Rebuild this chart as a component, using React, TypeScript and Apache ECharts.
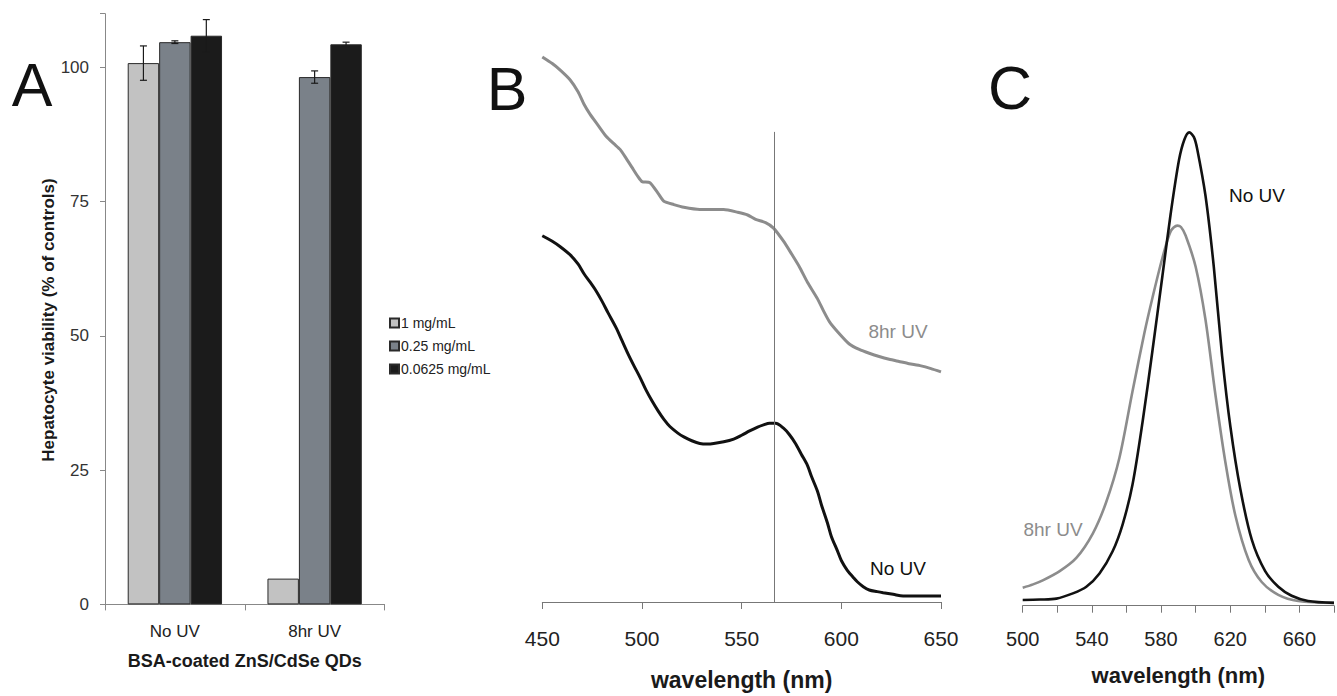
import React, { useEffect, useRef } from "react";
import * as echarts from "echarts";

// ---------- Panel A data ----------
const groupCategories = ["No UV", "8hr UV"];
const concNames = ["1 mg/mL", "0.25 mg/mL", "0.0625 mg/mL"];
const conc1Values = [100.8, 4.8];
const conc025Values = [104.7, 98.2];
const conc00625Values = [105.9, 104.3];
const conc1Errors = [3.2, 0];
const conc025Errors = [0.25, 1.15];
const conc00625Errors = [3.0, 0.4];
const viabilityTicks = [0, 25, 50, 75, 100];

// ---------- Panel B data (absorbance, a.u.) ----------
const absUV8hr: [number, number][] = [
  [450, 0.997], [455, 0.985], [459, 0.973], [464, 0.955], [468, 0.933], [471, 0.91],
  [474, 0.892], [478, 0.872], [482, 0.852], [486, 0.838], [489, 0.828], [492, 0.812],
  [495, 0.795], [498, 0.778], [500, 0.769], [504, 0.767], [508, 0.748], [511, 0.733],
  [516, 0.727], [521, 0.722], [529, 0.718], [541, 0.718], [548, 0.713], [553, 0.708],
  [557, 0.7], [562, 0.694], [566, 0.684], [571, 0.66], [575, 0.637], [579, 0.613],
  [583, 0.585], [588, 0.555], [591, 0.533], [594, 0.513], [598, 0.495], [604, 0.472],
  [609, 0.462], [614, 0.455], [619, 0.449], [624, 0.444], [629, 0.44], [634, 0.436],
  [640, 0.432], [645, 0.427], [650, 0.421],
];
const absNoUV: [number, number][] = [
  [450, 0.67], [455, 0.66], [459, 0.65], [464, 0.635], [468, 0.618], [471, 0.6],
  [474, 0.585], [477, 0.569], [480, 0.55], [483, 0.529], [487, 0.502], [490, 0.478],
  [493, 0.454], [496, 0.432], [499, 0.411], [502, 0.388], [505, 0.368], [508, 0.35],
  [511, 0.334], [514, 0.321], [518, 0.309], [521, 0.302], [525, 0.295],
  [529, 0.29], [533, 0.289], [536, 0.29], [541, 0.293], [546, 0.298], [550, 0.305],
  [554, 0.313], [558, 0.32], [561, 0.324], [564, 0.327], [567, 0.327], [571, 0.318],
  [574, 0.306], [577, 0.29], [580, 0.27], [583, 0.25], [585, 0.23], [588, 0.203],
  [590, 0.178], [593, 0.145], [595, 0.12], [598, 0.094], [600, 0.076], [603, 0.058],
  [606, 0.045], [608, 0.037], [611, 0.028], [614, 0.022], [618, 0.019], [621, 0.017],
  [626, 0.014], [631, 0.011], [640, 0.011], [650, 0.011],
];
const absMarkerNm = 566.2;
const absMarkerTop = 0.86;

// ---------- Panel C data (normalized PL intensity) ----------
const plNoUV: [number, number][] = [
  [500, 0.012], [510, 0.013], [519.5, 0.015], [529, 0.026], [536.8, 0.04], [544.4, 0.068],
  [552, 0.115], [557.8, 0.172], [563.5, 0.256], [569.3, 0.388], [575, 0.538], [580.8, 0.697],
  [585.6, 0.829], [590.4, 0.942], [593.5, 0.985], [596.3, 1.0], [599, 0.99], [600.9, 0.965],
  [605.7, 0.866], [610.5, 0.716], [615.3, 0.528], [620.1, 0.378], [625.8, 0.247], [632.5, 0.139],
  [640.2, 0.073], [647.8, 0.04], [655.5, 0.021], [665, 0.01], [680, 0.006],
];
const plUV8hr: [number, number][] = [
  [500, 0.038], [506, 0.045], [511.9, 0.054], [521.4, 0.073], [531, 0.101], [540.6, 0.153],
  [548.3, 0.219], [555.9, 0.312], [563.5, 0.453], [570.3, 0.575], [575, 0.65], [580.8, 0.735],
  [585.6, 0.791], [589.4, 0.803], [591.5, 0.8], [594.2, 0.782], [600, 0.716], [605.7, 0.604],
  [611.5, 0.444], [617.2, 0.303], [623, 0.19], [630.6, 0.097], [638.2, 0.05], [647.8, 0.023],
  [659.3, 0.01], [680, 0.006],
];

const FONT = "Liberation Sans, Arial, sans-serif";
const BAR_COLORS = ["#c2c2c2", "#7a8189", "#1b1b1b"];
const BAR_FRAC = 0.225;

export default function App() {
  const ref = useRef<HTMLDivElement>(null);

  useEffect(() => {
    if (!ref.current) return;
    const chart = echarts.init(ref.current, undefined, { renderer: "svg" });

    const barValues = [conc1Values, conc025Values, conc00625Values];
    const barErrors = [conc1Errors, conc025Errors, conc00625Errors];
    const errData: number[][] = [];
    barValues.forEach((vals, si) => {
      vals.forEach((v, ci) => {
        if (barErrors[si][ci] > 0) errData.push([ci, v, barErrors[si][ci], si]);
      });
    });

    const letter = (t: string, x: number, y: number) => ({
      type: "text",
      x,
      y,
      style: {
        text: t,
        fontSize: 61,
        fontFamily: FONT,
        fill: "#111",
        align: "center",
        verticalAlign: "middle",
      },
    });
    const curveLabel = (t: string, x: number, y: number, color: string) => ({
      type: "text",
      x,
      y,
      style: {
        text: t,
        fontSize: 19,
        fontFamily: FONT,
        fill: color,
        align: "center",
        verticalAlign: "middle",
      },
    });

    const option: any = {
      animation: false,
      backgroundColor: "#ffffff",
      textStyle: { fontFamily: FONT },
      grid: [
        { left: 105, top: 13.7, width: 279.5, height: 590.7 },
        { left: 542.3, top: 0.7, width: 398.7, height: 605 },
        { left: 1022.7, top: 85, width: 313.3, height: 520.7 },
      ],
      legend: {
        data: concNames,
        orient: "vertical",
        left: 389,
        top: 316,
        padding: 0,
        itemWidth: 9,
        itemHeight: 9,
        itemGap: 9,
        icon: "rect",
        textStyle: { fontSize: 14, color: "#222", fontFamily: FONT, lineHeight: 14, padding: [0, 0, 0, -3] },
      },
      xAxis: [
        {
          gridIndex: 0,
          type: "category",
          data: groupCategories,
          axisLine: { lineStyle: { color: "#888", width: 1 } },
          axisTick: { show: true, length: 6, lineStyle: { color: "#888" } },
          axisLabel: { fontSize: 17, color: "#222", margin: 19, fontFamily: FONT },
          name: "BSA-coated ZnS/CdSe QDs",
          nameLocation: "middle",
          nameGap: 48,
          nameTextStyle: { fontSize: 18, fontWeight: "bold", color: "#1a1a1a", fontFamily: FONT },
        },
        {
          gridIndex: 1,
          type: "value",
          min: 450,
          max: 650,
          interval: 50,
          axisLine: { lineStyle: { color: "#777", width: 1 } },
          axisTick: { show: true, length: 7, lineStyle: { color: "#777" } },
          axisLabel: { fontSize: 21, color: "#222", margin: 26, fontFamily: FONT },
          splitLine: { show: false },
          name: "wavelength (nm)",
          nameLocation: "middle",
          nameGap: 66,
          nameTextStyle: { fontSize: 23, fontWeight: "bold", color: "#1a1a1a", fontFamily: FONT },
        },
        {
          gridIndex: 2,
          type: "value",
          min: 500,
          max: 680,
          interval: 20,
          axisLine: { lineStyle: { color: "#777", width: 1 } },
          axisTick: { show: true, length: 7, lineStyle: { color: "#777" } },
          axisLabel: {
            fontSize: 20,
            color: "#222",
            margin: 23,
            fontFamily: FONT,
            formatter: (v: number) => ((v - 500) % 40 === 0 && v < 680 ? String(v) : ""),
          },
          splitLine: { show: false },
          name: "wavelength (nm)",
          nameLocation: "middle",
          nameGap: 59,
          nameTextStyle: { fontSize: 22, fontWeight: "bold", color: "#1a1a1a", fontFamily: FONT },
        },
      ],
      yAxis: [
        {
          gridIndex: 0,
          type: "value",
          min: 0,
          max: 110,
          interval: 25,
          axisLine: { show: true, lineStyle: { color: "#888", width: 1 } },
          axisTick: { show: true, length: 5, lineStyle: { color: "#888" } },
          axisLabel: {
            fontSize: 17,
            color: "#333",
            margin: 16,
            fontFamily: FONT,
            formatter: (v: number) => (viabilityTicks.includes(v) ? String(v) : ""),
          },
          splitLine: { show: false },
          name: "Hepatocyte viability (% of controls)",
          nameLocation: "middle",
          nameGap: 44,
          nameTextStyle: {
            fontSize: 17,
            fontWeight: "bold",
            color: "#1a1a1a",
            fontFamily: FONT,
            padding: [0, 22, 0, 0],
          },
        },
        { gridIndex: 1, type: "value", min: 0, max: 1.1, show: false },
        { gridIndex: 2, type: "value", min: 0, max: 1.1, show: false },
      ],
      series: [
        ...concNames.map((n, i) => ({
          name: n,
          type: "bar",
          xAxisIndex: 0,
          yAxisIndex: 0,
          data: barValues[i],
          barWidth: `${BAR_FRAC * 100}%`,
          barGap: "0%",
          itemStyle: { color: BAR_COLORS[i], borderColor: "#2a2a2a", borderWidth: 1 },
        })),
        {
          name: "error",
          type: "custom",
          xAxisIndex: 0,
          yAxisIndex: 0,
          z: 10,
          data: errData,
          encode: { x: 0, y: 1 },
          renderItem: (params: any, api: any) => {
            const ci = api.value(0);
            const v = api.value(1);
            const e = api.value(2);
            const si = api.value(3);
            const band = api.size([1, 0])[0];
            const off = (si - 1) * band * BAR_FRAC;
            const top = api.coord([ci, v + e]);
            const bot = api.coord([ci, v - e]);
            const x = top[0] + off;
            const st = { stroke: "#1a1a1a", lineWidth: 1.2 };
            return {
              type: "group",
              children: [
                { type: "line", shape: { x1: x, y1: top[1], x2: x, y2: bot[1] }, style: st },
                { type: "line", shape: { x1: x - 3.5, y1: top[1], x2: x + 3.5, y2: top[1] }, style: st },
                { type: "line", shape: { x1: x - 3.5, y1: bot[1], x2: x + 3.5, y2: bot[1] }, style: st },
              ],
            };
          },
        },
        {
          name: "B 8hr UV",
          type: "line",
          xAxisIndex: 1,
          yAxisIndex: 1,
          data: absUV8hr,
          showSymbol: false,
          smooth: 0.2,
          lineStyle: { color: "#8c8c8c", width: 3 },
          markLine: {
            silent: true,
            symbol: "none",
            label: { show: false },
            lineStyle: { color: "#777", width: 1, type: "solid" },
            data: [[{ coord: [absMarkerNm, 0] }, { coord: [absMarkerNm, absMarkerTop] }]],
          },
        },
        {
          name: "B No UV",
          type: "line",
          xAxisIndex: 1,
          yAxisIndex: 1,
          data: absNoUV,
          showSymbol: false,
          smooth: 0.3,
          lineStyle: { color: "#111", width: 3 },
        },
        {
          name: "C 8hr UV",
          type: "line",
          xAxisIndex: 2,
          yAxisIndex: 2,
          data: plUV8hr,
          showSymbol: false,
          smooth: 0.3,
          lineStyle: { color: "#8c8c8c", width: 2.6 },
        },
        {
          name: "C No UV",
          type: "line",
          xAxisIndex: 2,
          yAxisIndex: 2,
          data: plNoUV,
          showSymbol: false,
          smooth: 0.3,
          lineStyle: { color: "#111", width: 2.6 },
        },
      ],
      graphic: [
        letter("A", 32, 85),
        letter("B", 507, 89),
        letter("C", 1010, 88),
        curveLabel("8hr UV", 898, 331, "#8c8c8c"),
        curveLabel("No UV", 898, 568, "#111"),
        curveLabel("No UV", 1257, 195, "#111"),
        curveLabel("8hr UV", 1053, 529, "#8c8c8c"),
      ],
    };

    chart.setOption(option);
    return () => chart.dispose();
  }, []);

  return (
    <div
      ref={ref}
      style={{ position: "fixed", left: 0, top: 0, width: 1337, height: 696, background: "#fff" }}
    />
  );
}
